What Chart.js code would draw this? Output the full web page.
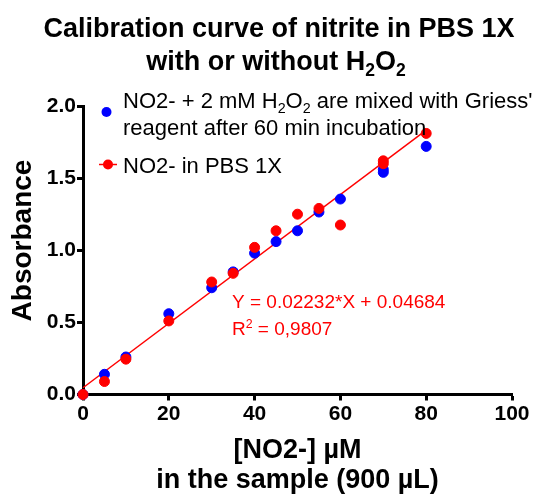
<!DOCTYPE html>
<html>
<head>
<meta charset="utf-8">
<script src="https://cdn.jsdelivr.net/npm/chart.js@4"></script>
<style>
    body { margin: 0; background: #fff; }
</style>
</head>
<body>
<canvas id="calChart" width="555" height="498"></canvas>
<script>
// data
const blueX = [0, 5, 10, 20, 30, 35, 40, 45, 50, 55, 60, 70, 70, 80];
const blueY = [0, 0.14, 0.26, 0.56, 0.74, 0.85, 0.98, 1.06, 1.135, 1.265, 1.355, 1.54, 1.56, 1.72];
const redX = [0, 5, 10, 20, 30, 35, 40, 45, 50, 55, 60, 70, 70, 80];
const redY = [0, 0.09, 0.245, 0.51, 0.78, 0.84, 1.02, 1.135, 1.25, 1.29, 1.175, 1.60, 1.62, 1.81];

// linear fit shown on the graph
const fitSlope = 0.02232;
const fitIntercept = 0.04684;
const fitX = [0, 80];

const xTickValues = [0, 20, 40, 60, 80, 100];
const yTickValues = [0, 0.5, 1.0, 1.5, 2.0];

const FONT = "'Liberation Sans', Arial, Helvetica, sans-serif";
const BLUE = '#0000ff';
const RED = '#ff0000';

function toPoints(xs, ys) {
    return xs.map(function (x, i) { return { x: x, y: ys[i] }; });
}

// text with sub/superscripts: parts = [[text, 'sub'|'sup'|undefined], ...]
function drawRich(ctx, parts, x, y, size, weight, align, color) {
    var total = 0;
    parts.forEach(function (p) {
        var s = p[1] ? size * 0.65 : size;
        ctx.font = weight + ' ' + s + 'px ' + FONT;
        total += ctx.measureText(p[0]).width;
    });
    var cx = align === 'center' ? x - total / 2 : x;
    ctx.fillStyle = color;
    ctx.textAlign = 'left';
    ctx.textBaseline = 'alphabetic';
    parts.forEach(function (p) {
        var s = p[1] ? size * 0.65 : size;
        var dy = p[1] === 'sub' ? size * 0.24 : (p[1] === 'sup' ? -size * 0.36 : 0);
        ctx.font = weight + ' ' + s + 'px ' + FONT;
        ctx.fillText(p[0], cx, y + dy);
        cx += ctx.measureText(p[0]).width;
    });
}

const decorations = {
    id: 'decorations',
    afterDraw: function (chart) {
        var ctx = chart.ctx;
        ctx.save();

        // title
        drawRich(ctx, [['Calibration curve of nitrite in PBS 1X']], 279, 37, 27, 'bold', 'center', '#000');
        drawRich(ctx, [['with or without H'], ['2', 'sub'], ['O'], ['2', 'sub']], 276, 70, 27, 'bold', 'center', '#000');

        // y axis title
        ctx.save();
        ctx.translate(23.5, 240.5);
        ctx.rotate(-Math.PI / 2);
        ctx.font = 'bold 28px ' + FONT;
        ctx.fillStyle = '#000';
        ctx.textAlign = 'center';
        ctx.textBaseline = 'middle';
        ctx.fillText('Absorbance', 0, 0);
        ctx.restore();

        // legend
        ctx.fillStyle = BLUE;
        ctx.beginPath();
        ctx.arc(106.5, 112, 5, 0, Math.PI * 2);
        ctx.fill();
        drawRich(ctx, [['NO2- + 2 mM H'], ['2', 'sub'], ['O'], ['2', 'sub'], [" are mixed with Griess'"]], 123, 108, 22, 'normal', 'left', '#000');
        drawRich(ctx, [['reagent after 60 min incubation']], 123, 135, 22, 'normal', 'left', '#000');

        ctx.strokeStyle = RED;
        ctx.lineWidth = 1.5;
        ctx.beginPath();
        ctx.moveTo(99, 164.5);
        ctx.lineTo(117, 164.5);
        ctx.stroke();
        ctx.fillStyle = RED;
        ctx.beginPath();
        ctx.arc(108, 164.5, 5, 0, Math.PI * 2);
        ctx.fill();
        drawRich(ctx, [['NO2- in PBS 1X']], 123, 173, 22, 'normal', 'left', '#000');

        // fit equation
        drawRich(ctx, [['Y = 0.02232*X + 0.04684']], 232, 308, 19, 'normal', 'left', RED);
        drawRich(ctx, [['R'], ['2', 'sup'], [' = 0,9807']], 232, 335, 19, 'normal', 'left', RED);

        ctx.restore();
    }
};

var ctx = document.getElementById('calChart').getContext('2d');
var calChart = new Chart(ctx, {
    type: 'scatter',
    data: {
        datasets: [
            {
                label: 'NO2- in PBS 1X',
                data: toPoints(redX, redY),
                backgroundColor: RED,
                borderColor: RED,
                pointRadius: 5,
                pointBorderWidth: 1,
                order: 0,
                clip: false
            },
            {
                label: "NO2- + 2 mM H2O2 are mixed with Griess' reagent after 60 min incubation",
                data: toPoints(blueX, blueY),
                backgroundColor: BLUE,
                borderColor: BLUE,
                pointRadius: 5,
                pointBorderWidth: 1,
                order: 1,
                clip: false
            },
            {
                label: 'fit',
                data: fitX.map(function (x) { return { x: x, y: fitSlope * x + fitIntercept }; }),
                showLine: true,
                borderColor: RED,
                borderWidth: 1.5,
                pointRadius: 0,
                order: 2,
                clip: false
            }
        ]
    },
    options: {
        responsive: false,
        animation: false,
        layout: {
            padding: { top: 106, right: 43, left: 0, bottom: 0 }
        },
        scales: {
            x: {
                type: 'linear',
                min: 0,
                max: 100,
                afterFit: function (scale) { scale.height = 103.5; },
                afterBuildTicks: function (scale) {
                    scale.ticks = xTickValues.map(function (v) { return { value: v }; });
                },
                grid: {
                    drawOnChartArea: false,
                    drawTicks: true,
                    tickLength: 6,
                    tickWidth: 3,
                    color: '#000'
                },
                border: { display: true, color: '#000', width: 3 },
                ticks: {
                    padding: 1,
                    color: '#000',
                    maxRotation: 0,
                    font: { family: FONT, size: 21, weight: 'bold' },
                    callback: function (value) { return value; }
                },
                title: {
                    display: true,
                    text: ['[NO2-] \u00b5M', 'in the sample (900 \u00b5L)'],
                    color: '#000',
                    padding: { top: 0, bottom: 2 },
                    font: { family: FONT, size: 27, weight: 'bold', lineHeight: '30px' }
                }
            },
            y: {
                type: 'linear',
                min: 0,
                max: 2,
                afterFit: function (scale) { scale.width = 83; },
                afterBuildTicks: function (scale) {
                    scale.ticks = yTickValues.map(function (v) { return { value: v }; });
                },
                grid: {
                    drawOnChartArea: false,
                    drawTicks: true,
                    tickLength: 6,
                    tickWidth: 3,
                    color: '#000'
                },
                border: { display: true, color: '#000', width: 3 },
                ticks: {
                    padding: 1,
                    color: '#000',
                    font: { family: FONT, size: 21, weight: 'bold' },
                    callback: function (value) { return value.toFixed(1); }
                }
            }
        },
        plugins: {
            legend: { display: false },
            tooltip: { enabled: false },
            title: { display: false }
        }
    },
    plugins: [decorations]
});
</script>
</body>
</html>
